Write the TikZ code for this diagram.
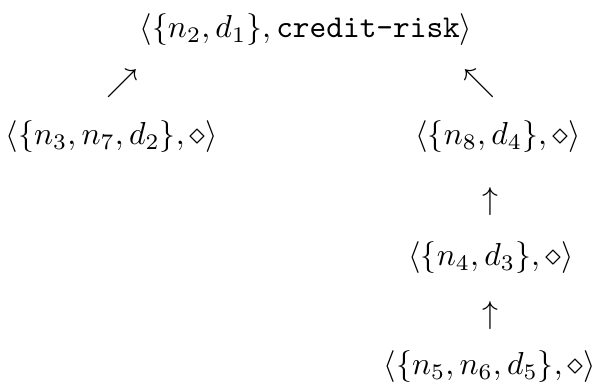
\documentclass[tikz,border=0pt]{standalone}
\begin{document}
\begin{tikzpicture}[x=0.3145pt,y=-0.3145pt,
  lbl/.style={anchor=base,inner sep=0pt,outer sep=0pt},
  arr/.style={inner sep=0pt,outer sep=0pt}]
\useasboundingbox (0,0) rectangle (593,389);
\node[lbl] (top) at (306,38) {$\langle\{n_2,d_1\},\texttt{credit-risk}\rangle$};
\node[lbl] (l1) at (112,145) {$\langle\{n_3,n_7,d_2\},\diamond\rangle$};
\node[lbl] (r1) at (498,145) {$\langle\{n_8,d_4\},\diamond\rangle$};
\node[lbl] (r2) at (491,266) {$\langle\{n_4,d_3\},\diamond\rangle$};
\node[lbl] (r3) at (490,375) {$\langle\{n_5,n_6,d_5\},\diamond\rangle$};
\node[arr] (a1) at (122,84) {$\nearrow$};
\node[arr] (a2) at (479,84) {$\nwarrow$};
\node[arr] (a3) at (490,202) {$\uparrow$};
\node[arr] (a4) at (490,316) {$\uparrow$};
\end{tikzpicture}
\end{document}
